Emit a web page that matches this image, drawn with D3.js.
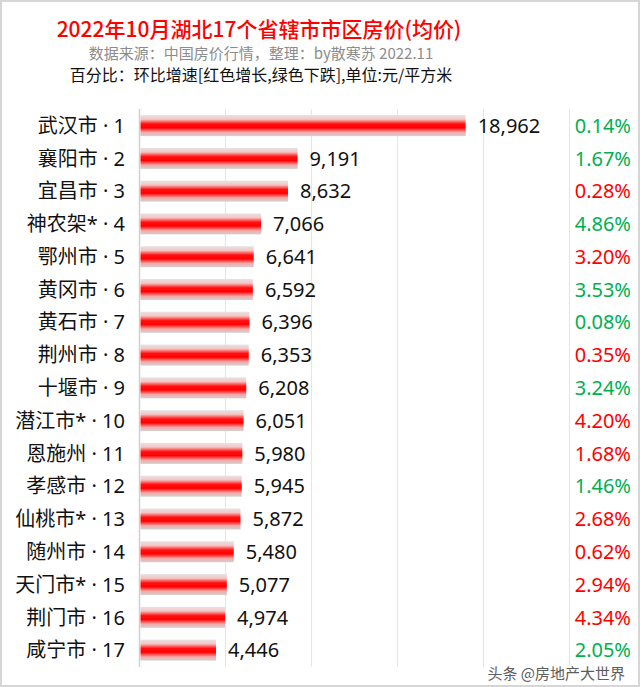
<!DOCTYPE html>
<html><head><meta charset="utf-8">
<script src="https://cdn.jsdelivr.net/npm/d3@7"></script>
<style>
html,body{margin:0;padding:0;background:#fff;}
svg{display:block;font-family:"Noto Sans CJK SC","Noto Sans",sans-serif;}
.lat{font-family:"Noto Sans","Noto Sans CJK SC",sans-serif;}
</style></head>
<body>
<svg id="chart" width="640" height="687"></svg>
<script>
const categories = ["武汉市 · 1","襄阳市 · 2","宜昌市 · 3","神农架* · 4","鄂州市 · 5","黄冈市 · 6","黄石市 · 7","荆州市 · 8","十堰市 · 9","潜江市* · 10","恩施州 · 11","孝感市 · 12","仙桃市* · 13","随州市 · 14","天门市* · 15","荆门市 · 16","咸宁市 · 17"];
const prices = [18962,9191,8632,7066,6641,6592,6396,6353,6208,6051,5980,5945,5872,5480,5077,4974,4446];
const changes = ["0.14%","1.67%","0.28%","4.86%","3.20%","3.53%","0.08%","0.35%","3.24%","4.20%","1.68%","1.46%","2.68%","0.62%","2.94%","4.34%","2.05%"];
const changeDir = ["down","down","up","down","up","down","down","up","down","up","up","down","up","up","up","up","down"];
const xTicks = [5000,10000,15000,20000,25000];

const svg = d3.select("#chart");
const W = 640, H = 687;

svg.append("rect").attr("x",1).attr("y",1).attr("width",W-2).attr("height",H-2)
  .attr("fill","#fff").attr("stroke","#d6d6d6").attr("stroke-width",2);

const defs = svg.append("defs");
const g = defs.append("linearGradient").attr("id","barGrad").attr("x1",0).attr("y1",0).attr("x2",0).attr("y2",1);
[[0,"#e4e4e4"],[0.2,"#f6c4c4"],[0.42,"#ff1010"],[0.6,"#ff0000"],[0.82,"#f4a8a8"],[1,"#d2d2d2"]]
  .forEach(([o,c])=>g.append("stop").attr("offset",o).attr("stop-color",c));

const x = d3.scaleLinear().domain([0,25000]).range([139.5,569.5]);
const y = d3.scaleBand().domain(categories).range([109.2,666.5]).paddingInner(0.36).paddingOuter(0.18);

// gridlines
svg.append("g").selectAll("line").data(xTicks).join("line")
  .attr("x1",d=>x(d)).attr("x2",d=>x(d)).attr("y1",109).attr("y2",667)
  .attr("stroke","#e6e6e6").attr("stroke-width",1.2);
// axis line
svg.append("line").attr("x1",x(0)).attr("x2",x(0)).attr("y1",109).attr("y2",667)
  .attr("stroke","#d0d0d0").attr("stroke-width",1.5);

// bars
svg.append("g").selectAll("rect").data(prices).join("rect")
  .attr("x",x(0)+1).attr("y",(d,i)=>y(categories[i]))
  .attr("width",d=>x(d)-x(0)-1).attr("height",y.bandwidth())
  .attr("fill","url(#barGrad)");

const cy = i => y(categories[i]) + y.bandwidth()/2;

// category labels
svg.append("g").attr("class","lat").selectAll("text").data(categories).join("text")
  .attr("x",125).attr("y",(d,i)=>cy(i)).attr("dy","0.36em")
  .attr("text-anchor","end").attr("font-size",20).attr("fill","#111").text(d=>d);

// value labels
const fmt = d3.format(",");
svg.append("g").attr("class","lat").selectAll("text").data(prices).join("text")
  .attr("x",d=>x(d)+12).attr("y",(d,i)=>cy(i)).attr("dy","0.36em")
  .attr("font-size",20).attr("fill","#111").text(d=>fmt(d));

// change labels
svg.append("g").attr("class","lat").selectAll("text").data(changes).join("text")
  .attr("x",631).attr("y",(d,i)=>cy(i)).attr("dy","0.36em")
  .attr("text-anchor","end").attr("font-size",20)
  .attr("fill",(d,i)=>changeDir[i]==="up"?"#ff0000":"#00b050").text(d=>d);

// titles
svg.append("text").attr("x",259).attr("y",37).attr("text-anchor","middle")
  .attr("font-size",21).attr("font-weight",500).attr("fill","#ff0000")
  .text("2022年10月湖北17个省辖市市区房价(均价)");
svg.append("text").attr("x",261).attr("y",59).attr("text-anchor","middle")
  .attr("font-size",15).attr("fill","#8c8c8c")
  .text("数据来源：中国房价行情，整理：by散寒苏 2022.11");
svg.append("text").attr("x",261).attr("y",81).attr("text-anchor","middle")
  .attr("font-size",16).attr("fill","#111")
  .text("百分比：环比增速[红色增长,绿色下跌],单位:元/平方米");

// watermark
svg.append("text").attr("x",625).attr("y",679).attr("text-anchor","end")
  .attr("font-size",15).attr("fill","#555").attr("stroke","#fff").attr("stroke-width",3)
  .attr("paint-order","stroke").attr("opacity",0.95)
  .text("头条 @房地产大世界");
</script>
</body></html>
